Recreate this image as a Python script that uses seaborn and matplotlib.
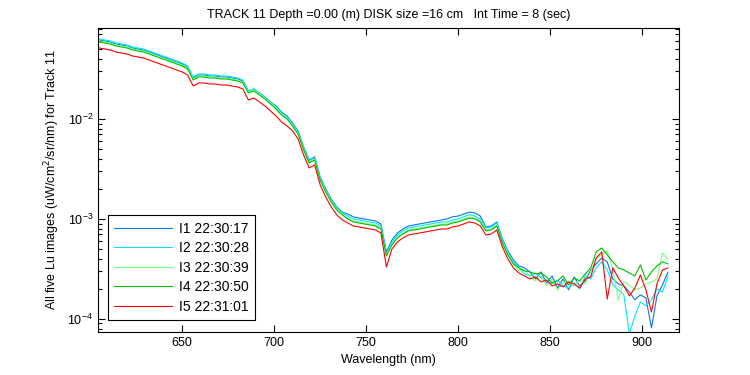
import numpy as np
import pandas as pd
import seaborn as sns
import matplotlib.pyplot as plt
from matplotlib.ticker import LogLocator, NullFormatter

# wavelength grid (nm), ~3 nm spacing
wavelength = [605, 608, 611, 614, 617, 620, 623, 626, 629, 632,
              635, 638, 641, 644, 647, 650, 653, 656, 659, 662,
              665, 668, 671, 674, 677, 680, 683, 686, 689, 692,
              695, 698, 701, 704, 707, 710, 713, 716, 719, 722,
              725, 728, 731, 734, 737, 740, 743, 746, 749, 752,
              755, 758, 761, 764, 767, 770, 773, 776, 779, 782,
              785, 788, 791, 794, 797, 800, 803, 806, 809, 812,
              815, 818, 821, 824, 827, 830, 833, 836, 839, 842,
              845, 848, 851, 854, 857, 860, 863, 866, 869, 872,
              875, 878, 881, 884, 887, 890, 893, 896, 899, 902,
              905, 908, 911, 914]

# Lu in units of 1e-4 uW/cm^2/sr/nm
lu_i1 = [616.6, 602.6, 588.8, 562.3, 549.5, 537.0, 512.9, 501.2, 489.8, 467.7,
         446.7, 426.6, 407.4, 389.0, 371.5, 354.8, 331.1, 257.0, 275.4, 275.4,
         269.2, 269.2, 263.0, 263.0, 257.0, 251.2, 239.9, 190.5, 199.5, 182.0,
         166.0, 147.9, 134.9, 117.5, 107.2, 91.2, 75.9, 52.5, 38.9, 41.7,
         26.3, 20.0, 15.8, 13.2, 11.7, 11.2, 10.5, 10.2, 10.0, 9.77,
         9.55, 8.91, 4.68, 6.17, 7.24, 7.94, 8.51, 8.71, 8.91, 9.12,
         9.33, 9.55, 9.77, 10.0, 10.5, 10.7, 11.2, 11.7, 11.5, 10.7,
         8.32, 8.51, 9.33, 6.31, 4.79, 3.89, 3.39, 3.24, 2.95, 2.51,
         2.95, 2.29, 2.69, 2.04, 2.51, 1.95, 2.63, 2.14, 2.40, 3.09,
         3.55, 4.07, 3.72, 2.51, 2.24, 2.14, 1.86, 1.55, 1.74, 1.62,
         0.813, 1.70, 2.19, 2.95]

lu_i2 = [631.0, 616.6, 602.6, 575.4, 562.3, 549.5, 524.8, 512.9, 501.2, 478.6,
         457.1, 436.5, 416.9, 398.1, 380.2, 363.1, 338.8, 263.0, 281.8, 281.8,
         275.4, 275.4, 269.2, 269.2, 263.0, 257.0, 245.5, 190.5, 199.5, 182.0,
         166.0, 147.9, 131.8, 114.8, 104.7, 89.1, 74.1, 51.3, 38.0, 40.7,
         25.7, 19.5, 15.5, 12.9, 11.5, 10.7, 10.0, 9.77, 9.55, 9.33,
         9.12, 8.51, 4.47, 5.89, 6.92, 7.59, 8.13, 8.32, 8.51, 8.71,
         8.91, 9.12, 9.33, 9.33, 9.77, 10.0, 10.5, 11.0, 10.7, 10.0,
         8.13, 8.32, 9.12, 6.17, 4.68, 3.72, 3.24, 2.82, 2.69, 2.88,
         2.57, 2.40, 2.24, 2.45, 2.14, 2.04, 2.29, 2.00, 2.69, 2.51,
         3.24, 3.72, 3.09, 2.19, 1.95, 1.74, 0.708, 1.07, 1.48, 1.35,
         1.55, 2.00, 1.86, 2.69]

lu_i3 = [602.6, 588.8, 575.4, 549.5, 537.0, 524.8, 501.2, 489.8, 478.6, 457.1,
         436.5, 416.9, 398.1, 380.2, 363.1, 346.7, 323.6, 251.2, 269.2, 269.2,
         263.0, 263.0, 257.0, 257.0, 251.2, 245.5, 234.4, 186.2, 195.0, 177.8,
         162.2, 144.5, 128.8, 112.2, 102.3, 87.1, 72.4, 50.1, 37.2, 39.8,
         25.1, 19.1, 15.1, 12.6, 11.2, 10.2, 9.55, 9.33, 9.12, 8.91,
         8.71, 8.13, 4.37, 5.62, 6.61, 7.24, 7.76, 7.94, 8.13, 8.32,
         8.51, 8.71, 8.91, 8.91, 9.33, 9.55, 10.0, 10.5, 10.2, 9.55,
         7.76, 7.94, 8.71, 5.89, 4.47, 3.55, 3.02, 3.09, 2.63, 2.40,
         2.69, 2.19, 2.51, 1.95, 2.29, 2.40, 2.14, 2.45, 2.24, 2.95,
         4.07, 4.37, 4.79, 3.09, 1.55, 2.34, 2.19, 1.95, 2.04, 2.24,
         2.34, 2.51, 4.57, 3.89]

lu_i4 = [588.8, 575.4, 562.3, 537.0, 524.8, 512.9, 489.8, 478.6, 467.7, 446.7,
         426.6, 407.4, 389.0, 371.5, 354.8, 338.8, 316.2, 245.5, 263.0, 263.0,
         257.0, 257.0, 251.2, 251.2, 245.5, 239.9, 229.1, 182.0, 190.5, 173.8,
         158.5, 141.3, 125.9, 109.6, 100.0, 85.1, 70.8, 49.0, 36.3, 38.9,
         24.5, 18.6, 14.8, 12.3, 11.0, 10.0, 9.33, 9.12, 8.91, 8.71,
         8.51, 7.94, 4.27, 5.50, 6.46, 7.08, 7.59, 7.76, 7.94, 8.13,
         8.32, 8.51, 8.71, 8.71, 9.12, 9.33, 9.77, 10.2, 10.0, 9.33,
         7.59, 7.76, 8.51, 5.75, 4.37, 3.55, 3.24, 3.02, 2.95, 2.82,
         2.88, 2.63, 2.29, 2.40, 2.69, 2.19, 2.57, 2.40, 2.82, 3.24,
         4.68, 5.13, 4.37, 3.72, 3.24, 3.09, 2.88, 2.69, 3.47, 2.45,
         2.95, 3.39, 3.72, 3.55]

lu_i5 = [512.9, 501.2, 489.8, 467.7, 457.1, 446.7, 426.6, 416.9, 407.4, 389.0,
         371.5, 354.8, 338.8, 323.6, 309.0, 295.1, 275.4, 213.8, 229.1, 229.1,
         223.9, 223.9, 218.8, 218.8, 213.8, 208.9, 199.5, 154.9, 162.2, 147.9,
         134.9, 120.2, 107.2, 93.3, 85.1, 75.9, 63.1, 43.7, 32.4, 34.7,
         21.9, 16.6, 13.2, 11.0, 9.77, 9.12, 8.51, 8.32, 8.13, 7.94,
         7.76, 7.24, 3.31, 5.01, 5.89, 6.46, 6.92, 7.08, 7.24, 7.41,
         7.59, 7.76, 7.94, 7.94, 8.32, 8.51, 8.91, 9.33, 9.12, 8.51,
         6.92, 7.08, 7.76, 5.25, 3.98, 3.24, 2.88, 2.69, 2.51, 2.63,
         2.34, 2.45, 2.14, 2.24, 2.09, 2.34, 2.24, 2.04, 2.51, 2.63,
         4.07, 4.68, 1.58, 3.24, 2.57, 2.14, 1.70, 2.04, 2.75, 1.95,
         1.17, 2.24, 3.09, 3.24]

labels = ['I1 22:30:17', 'I2 22:30:28', 'I3 22:30:39', 'I4 22:30:50', 'I5 22:31:01']
colors = ['#0a78e6', '#00e6ff', '#7dff7d', '#00bf00', '#ff0000']

frames = []
for lab, vals in zip(labels, [lu_i1, lu_i2, lu_i3, lu_i4, lu_i5]):
    frames.append(pd.DataFrame({'wavelength': wavelength,
                                'lu': np.array(vals) * 1e-4,
                                'image': lab}))
df = pd.concat(frames, ignore_index=True)

sns.set_style('ticks', {'axes.edgecolor': 'black', 'xtick.color': 'black',
                        'ytick.color': 'black', 'text.color': 'black',
                        'axes.labelcolor': 'black'})
plt.rcParams['font.family'] = ['Liberation Sans', 'DejaVu Sans']
plt.rcParams['font.size'] = 9

fig = plt.figure(figsize=(7.5, 3.75), dpi=100)
ax = fig.add_axes([0.1307, 0.1147, 0.7747, 0.8107])

sns.lineplot(data=df, x='wavelength', y='lu', hue='image',
             palette=dict(zip(labels, colors)), estimator=None, sort=False,
             linewidth=0.8, ax=ax)

ax.set_yscale('log')
ax.set_xlim(604.3, 920)
ax.set_ylim(7.4e-5, 8.13e-2)
ax.set_xticks([650, 700, 750, 800, 850, 900])
ax.yaxis.set_major_locator(LogLocator(base=10, numticks=10))
ax.yaxis.set_minor_locator(LogLocator(base=10, subs=np.arange(2, 10), numticks=20))
ax.yaxis.set_minor_formatter(NullFormatter())
ax.tick_params(which='both', direction='in', top=True, right=True, labelsize=9)
ax.tick_params(which='major', length=5, width=0.8)
ax.tick_params(which='minor', length=3, width=0.8)
for s in ax.spines.values():
    s.set_linewidth(0.8)
    s.set_color('black')

ax.set_xlabel('Wavelength (nm)', fontsize=9)
ax.set_ylabel('All five Lu images (uW/cm$^2$/sr/nm) for Track 11', fontsize=9)
ax.set_title('TRACK 11 Depth =0.00 (m) DISK size =16 cm   Int Time = 8 (sec)',
             fontsize=9, pad=7)

h, l = ax.get_legend_handles_labels()
keep = [(hh, ll) for hh, ll in zip(h, l) if ll in labels]
leg = ax.legend([k[0] for k in keep], [k[1] for k in keep],
                loc='lower left', bbox_to_anchor=(0.017, 0.039),
                frameon=True, fancybox=False, edgecolor='black', fontsize=10,
                handlelength=4.2, labelspacing=0.4, borderpad=0.45,
                handletextpad=0.45, borderaxespad=0)
leg.get_frame().set_linewidth(0.8)
leg.get_frame().set_alpha(1)

fig.savefig('out.png', dpi=100)
